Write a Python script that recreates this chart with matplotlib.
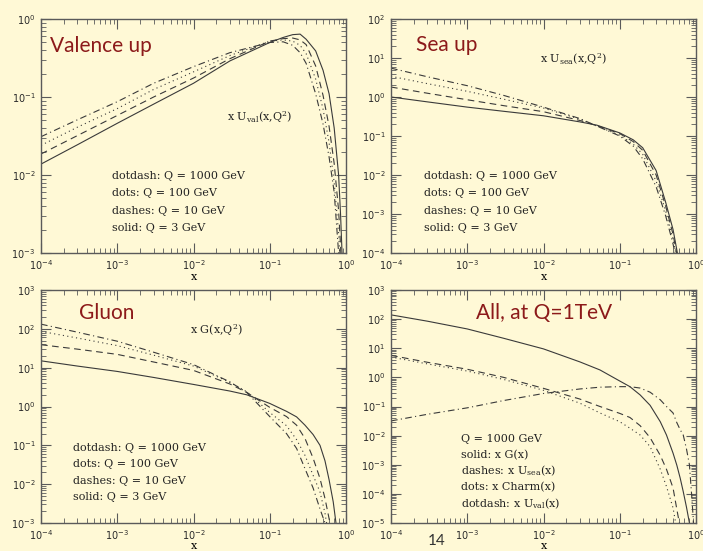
import matplotlib.pyplot as plt
import numpy as np

plt.rcParams['mathtext.fontset'] = 'dejavuserif'

# ---- Valence up (x U_val) ----
val_x = [1e-4, 3e-4, 1e-3, 3e-3, 1e-2, 3e-2, 0.1, 0.15, 0.2, 0.25, 0.3, 0.4, 0.5, 0.6, 0.7, 0.8, 0.85, 0.9, 0.93]
val_q3 = [0.0138, 0.0244, 0.046, 0.081, 0.15, 0.29, 0.50, 0.58, 0.63, 0.64, 0.55, 0.39, 0.22, 0.11, 0.04, 0.01, 0.003, 0.0007, 1e-4]
val_q10 = [0.0186, 0.032, 0.058, 0.10, 0.175, 0.31, 0.52, 0.56, 0.57, 0.54, 0.47, 0.25, 0.105, 0.042, 0.014, 0.0035, 0.0012, 0.0002, 3e-5]
val_q100 = [0.024, 0.041, 0.071, 0.125, 0.21, 0.34, 0.52, 0.54, 0.52, 0.46, 0.36, 0.17, 0.07, 0.026, 0.008, 0.0018, 0.0006, 0.0001, 1e-5]
val_q1000 = [0.031, 0.051, 0.087, 0.15, 0.245, 0.37, 0.50, 0.51, 0.46, 0.37, 0.27, 0.11, 0.045, 0.017, 0.006, 0.001, 0.0003, 5e-5, 5e-6]

# ---- Sea up (x U_sea) ----
sea_x = [1e-4, 3e-4, 1e-3, 3e-3, 1e-2, 3e-2, 0.05, 0.1, 0.15, 0.2, 0.3, 0.4, 0.5, 0.57, 0.62]
sea_q3 = [1.0, 0.75, 0.55, 0.43, 0.33, 0.23, 0.19, 0.12, 0.08, 0.05, 0.013, 0.002, 4e-4, 1e-4, 3e-5]
sea_q10 = [1.8, 1.25, 0.85, 0.6, 0.42, 0.25, 0.185, 0.115, 0.072, 0.043, 0.01, 0.0016, 3e-4, 8e-5, 2e-5]
sea_q100 = [3.4, 2.2, 1.4, 0.88, 0.52, 0.27, 0.18, 0.105, 0.062, 0.034, 0.007, 0.0012, 2.2e-4, 6e-5, 1.5e-5]
sea_q1000 = [5.5, 3.3, 1.95, 1.1, 0.55, 0.28, 0.18, 0.10, 0.055, 0.026, 0.005, 9e-4, 1.7e-4, 5e-5, 1.2e-5]

# ---- Gluon (x G) ----
glu_x = [1e-4, 3e-4, 1e-3, 3e-3, 1e-2, 3e-2, 0.05, 0.1, 0.166, 0.225, 0.29, 0.37, 0.456, 0.53, 0.6, 0.68, 0.75, 0.82]
glu_q3 = [15, 11, 8.0, 5.6, 3.7, 2.5, 2.0, 1.2, 0.75, 0.54, 0.33, 0.19, 0.1, 0.04, 0.013, 0.0035, 8e-4, 1e-4]
glu_q10 = [39, 30, 22, 14, 8.5, 3.8, 2.3, 0.95, 0.55, 0.33, 0.15, 0.047, 0.014, 0.0043, 0.0013, 3e-4, 6e-5, 5e-6]
glu_q100 = [86, 58, 37, 21, 11, 4.2, 2.4, 0.7, 0.32, 0.14, 0.055, 0.017, 0.0063, 0.0018, 4e-4, 6e-5, 1e-5, 1e-6]
glu_q1000 = [132, 82, 48, 25, 12, 4.3, 2.3, 0.55, 0.2, 0.083, 0.025, 0.008, 0.0023, 0.001, 2.5e-4, 4e-5, 5e-6, 5e-7]

# ---- All at Q = 1 TeV ----
all_x = [1e-4, 3e-4, 1e-3, 3e-3, 1e-2, 3e-2, 0.055, 0.1, 0.136, 0.185, 0.25, 0.34, 0.41, 0.5, 0.56, 0.62, 0.68, 0.75, 0.82, 0.88, 0.92, 0.95]
all_glu = [140, 85, 46, 22, 9.5, 3.4, 1.8, 0.75, 0.48, 0.25, 0.11, 0.03, 0.0105, 0.0025, 9.7e-4, 3.5e-4, 1.2e-4, 3.5e-5, 1e-5, 2.5e-6, 5e-7, 1e-7]
all_sea = [5.7, 3.3, 1.9, 1.0, 0.42, 0.18, 0.1, 0.058, 0.042, 0.022, 0.0085, 0.0021, 7e-4, 1.6e-4, 3e-5, 7e-6, 1.5e-6, 3e-7, 5e-8, 1e-8, 2e-9, 5e-10]
all_charm = [5.0, 2.9, 1.65, 0.85, 0.36, 0.13, 0.06, 0.03, 0.018, 0.0105, 0.0042, 7e-4, 1.8e-4, 3.3e-5, 6e-6, 1e-6, 1e-7, 1e-8, 1e-9, 1e-10, 1e-11, 1e-12]
all_val = [0.032, 0.054, 0.09, 0.16, 0.28, 0.40, 0.46, 0.48, 0.48, 0.43, 0.31, 0.17, 0.10, 0.06, 0.028, 0.016, 0.0105, 0.0035, 0.001, 8e-5, 1.4e-5, 1e-6]

q_labels = ['dotdash: Q = 1000 GeV', 'dots: Q = 100 GeV', 'dashes: Q = 10 GeV', 'solid: Q = 3 GeV']
all_labels = ['Q = 1000 GeV', 'solid: x G(x)', r'dashes: x U$_{\rm sea}$(x)', 'dots: x Charm(x)',
              r'dotdash: x U$_{\rm val}$(x)']

bg = '#fff9d6'
line_c = '#3a3a3a'
frame_c = '#5a5a5a'
red = '#8c1a1a'
styles = {'solid': '-', 'dash': (0, (6, 4)), 'dot': (0, (1, 3)), 'dotdash': (0, (6, 3, 1, 3))}

fig = plt.figure(figsize=(7.03, 5.51), dpi=100)
fig.set_facecolor(bg)

W, H = 703, 551
def make_ax(l, r, t, b):
    ax = fig.add_axes([l / W, 1 - b / H, (r - l) / W, (b - t) / H])
    ax.set_facecolor(bg)
    ax.set_xscale('log')
    ax.set_yscale('log')
    ax.set_xlim(1e-4, 1)
    for s in ax.spines.values():
        s.set_color(frame_c)
        s.set_linewidth(1.0)
    ax.tick_params(which='both', direction='in', top=True, right=True, color=frame_c,
                   labelsize=7, labelcolor='#2a2a2a', pad=4)
    ax.tick_params(which='major', length=7)
    ax.tick_params(which='minor', length=3.5)
    return ax

def curves(ax, x, ys):
    for y, st in zip(ys, ['solid', 'dash', 'dot', 'dotdash']):
        ax.plot(x, y, color=line_c, lw=0.8, linestyle=styles[st])

def txt(ax, x, y, s, **kw):
    ax.text(x, y, s, transform=ax.transAxes, va='center', **kw)

serif = dict(family='DejaVu Serif', fontsize=8, color='#222222')
title = dict(family='Lato', fontsize=15, color=red)

# panel 1
ax1 = make_ax(41, 346, 19, 253)
ax1.set_ylim(1e-3, 1)
curves(ax1, val_x, [val_q3, val_q10, val_q100, val_q1000])
txt(ax1, 0.03, 0.885, 'Valence up', **title)
txt(ax1, 0.61, 0.58, r'x U$_{\rm val}$(x,Q$^2$)', **serif)
for yy, s in zip([0.329, 0.256, 0.179, 0.107], q_labels):
    txt(ax1, 0.233, yy, s, **serif)
txt(ax1, 0.5, -0.102, 'x', family='DejaVu Serif', fontsize=8, ha='center')

# panel 2
ax2 = make_ax(391, 696, 19, 253)
ax2.set_ylim(1e-4, 1e2)
curves(ax2, sea_x, [sea_q3, sea_q10, sea_q100, sea_q1000])
txt(ax2, 0.082, 0.889, 'Sea up', **title)
txt(ax2, 0.489, 0.829, r'x U$_{\rm sea}$(x,Q$^2$)', **serif)
for yy, s in zip([0.329, 0.256, 0.179, 0.107], q_labels):
    txt(ax2, 0.108, yy, s, **serif)
txt(ax2, 0.5, -0.102, 'x', family='DejaVu Serif', fontsize=8, ha='center')

# panel 3
ax3 = make_ax(41, 346, 290, 523)
ax3.set_ylim(1e-3, 1e3)
curves(ax3, glu_x, [glu_q3, glu_q10, glu_q100, glu_q1000])
txt(ax3, 0.125, 0.90, 'Gluon', **title)
txt(ax3, 0.489, 0.828, r'x G(x,Q$^2$)', **serif)
for yy, s in zip([0.322, 0.253, 0.180, 0.112], q_labels):
    txt(ax3, 0.105, yy, s, **serif)
txt(ax3, 0.5, -0.1, 'x', family='DejaVu Serif', fontsize=8, ha='center')

# panel 4
ax4 = make_ax(391, 696, 290, 523)
ax4.set_ylim(1e-5, 1e3)
curves(ax4, all_x, [all_glu, all_sea, all_charm, all_val])
txt(ax4, 0.279, 0.90, 'All, at Q=1TeV', **title)
for yy, s in zip([0.36, 0.292, 0.223, 0.155, 0.082], all_labels):
    txt(ax4, 0.23, yy, s, **serif)
txt(ax4, 0.5, -0.1, 'x', family='DejaVu Serif', fontsize=8, ha='center')

fig.text(437 / W, 1 - 541 / H, '14', family='Lato', fontsize=11, color='#333333',
         ha='center', va='center')

fig.savefig('out.png', dpi=100, facecolor=bg)
